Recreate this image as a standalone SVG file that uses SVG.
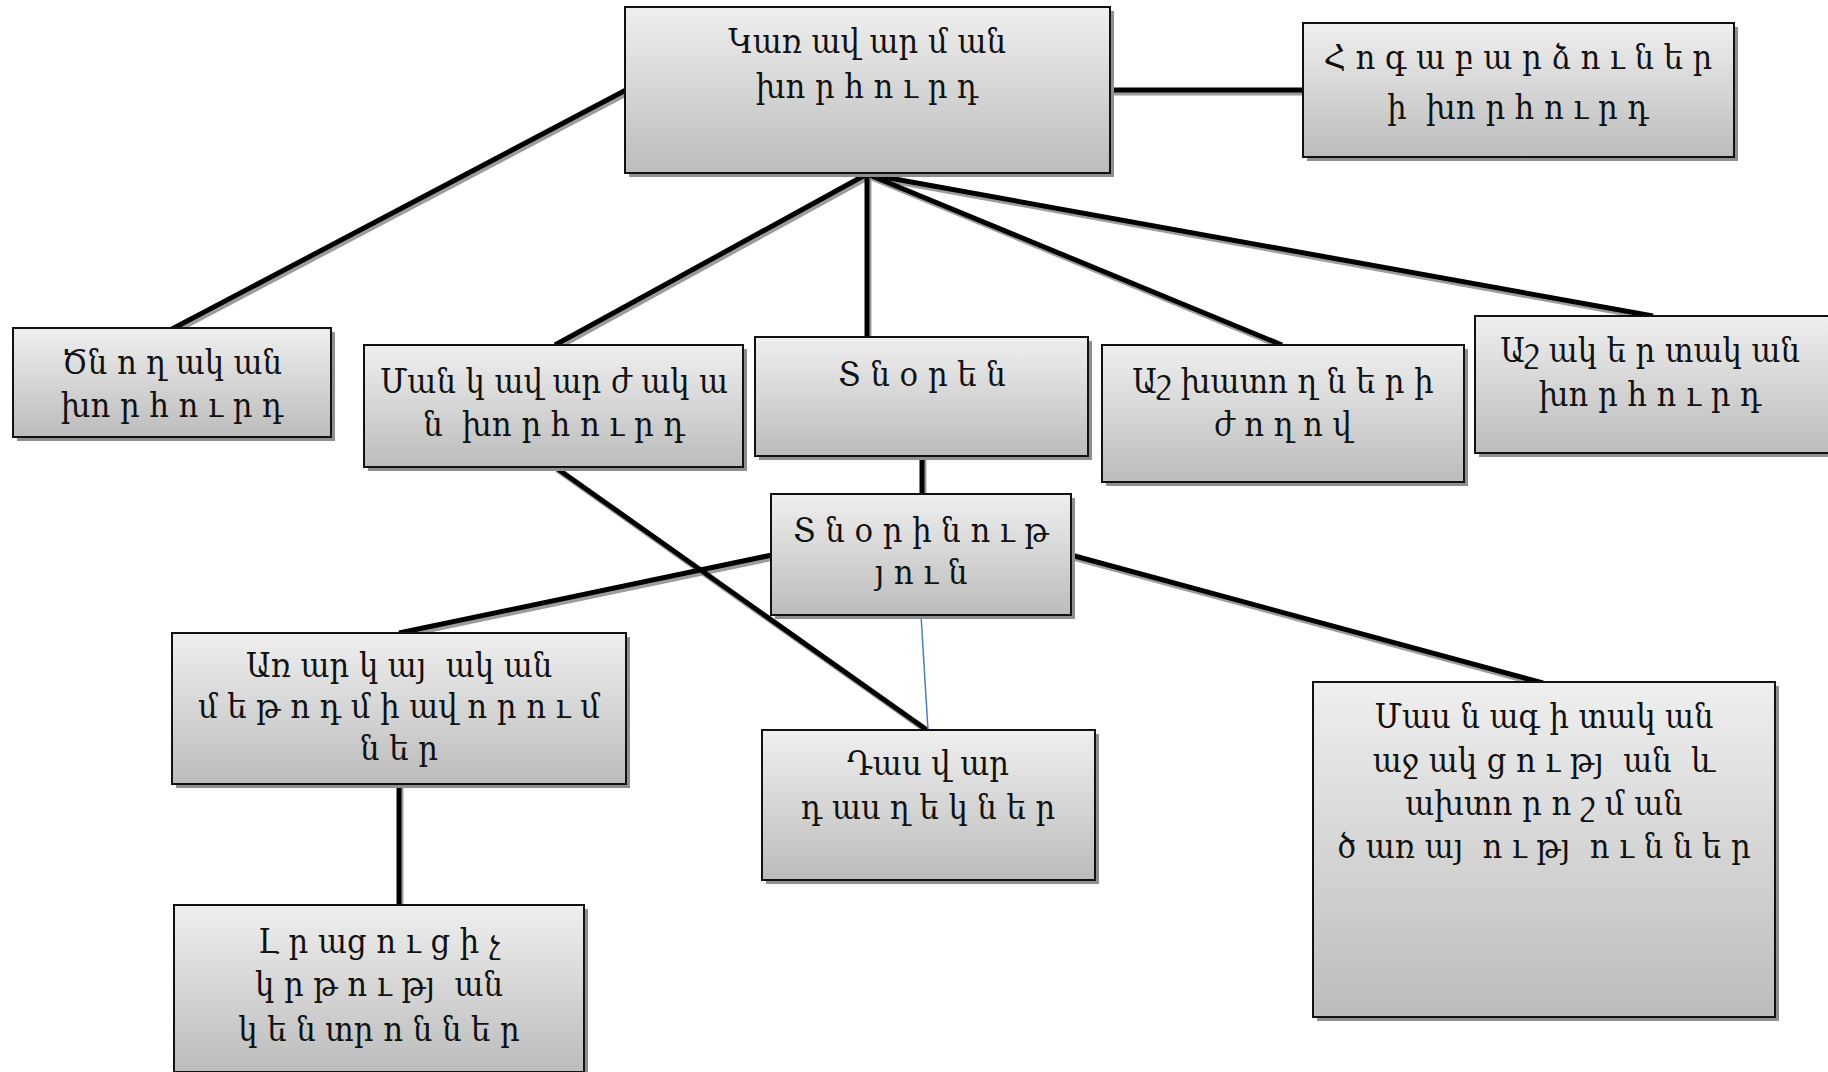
<svg xmlns="http://www.w3.org/2000/svg" width="1828" height="1072" viewBox="0 0 1828 1072">
<defs>
<linearGradient id="g" x1="0" y1="0" x2="0" y2="1">
<stop offset="0" stop-color="#efefef"/>
<stop offset="1" stop-color="#bcbcbc"/>
</linearGradient>
<style>
.box{fill:url(#g);stroke:#111;stroke-width:2}
.sh{fill:#8f8f8f}
.t{font-family:"DejaVu Serif Condensed","DejaVu Serif",serif;font-stretch:condensed;font-size:34px;fill:#111;text-anchor:middle;white-space:pre}
.ln{stroke:#000;stroke-width:5;fill:none}
.lns{stroke:#9c9c9c;stroke-width:5;fill:none}
.blue{stroke:#4a7ebb;stroke-width:1.5;fill:none}
</style>
</defs>
<rect width="1828" height="1072" fill="#fff"/>
<g id="connectors">
<g transform="translate(2,3)">
<line class="lns" x1="626" y1="90" x2="172" y2="329"/>
<line class="lns" x1="1110" y1="90" x2="1303" y2="90"/>
<line class="lns" x1="867" y1="174" x2="555" y2="345"/>
<line class="lns" x1="867" y1="174" x2="867" y2="336"/>
<line class="lns" x1="867" y1="174" x2="1282" y2="345"/>
<line class="lns" x1="867" y1="174" x2="1653" y2="316"/>
<line class="lns" x1="922" y1="456" x2="922" y2="494"/>
<line class="lns" x1="555" y1="467" x2="927" y2="730"/>
<line class="lns" x1="772" y1="555" x2="399" y2="633"/>
<line class="lns" x1="1071" y1="555" x2="1543" y2="683"/>
<line class="lns" x1="399" y1="785" x2="399" y2="905"/>
</g>
<line class="ln" x1="626" y1="90" x2="172" y2="329"/>
<line class="ln" x1="1110" y1="90" x2="1303" y2="90"/>
<line class="ln" x1="867" y1="174" x2="555" y2="345"/>
<line class="ln" x1="867" y1="174" x2="867" y2="336"/>
<line class="ln" x1="867" y1="174" x2="1282" y2="345"/>
<line class="ln" x1="867" y1="174" x2="1653" y2="316"/>
<line class="ln" x1="922" y1="456" x2="922" y2="494"/>
<line class="ln" x1="555" y1="467" x2="927" y2="730"/>
<line class="ln" x1="772" y1="555" x2="399" y2="633"/>
<line class="ln" x1="1071" y1="555" x2="1543" y2="683"/>
<line class="ln" x1="399" y1="785" x2="399" y2="905"/>
<line class="blue" x1="921" y1="615" x2="928" y2="730"/>
</g>
<g id="n-karavarman">
<rect class="sh" x="629" y="11" width="485" height="166"/>
<rect class="box" x="625" y="7" width="485" height="166"/>
<text class="t" x="867" y="53">Կառ ավ ար մ ան</text>
<text class="t" x="867" y="98">խո ր հ ո ւ ր դ</text>
</g>
<g id="n-hogabarcu">
<rect class="sh" x="1307" y="27" width="431" height="134"/>
<rect class="box" x="1303" y="23" width="431" height="134"/>
<text class="t" x="1518" y="69">Հ ո գ ա բ ա ր ձ ո ւ ն ե ր</text>
<text class="t" x="1518" y="119">ի  խո ր հ ո ւ ր դ</text>
</g>
<g id="n-cnoxakan">
<rect class="sh" x="17" y="332" width="318" height="109"/>
<rect class="box" x="13" y="328" width="318" height="109"/>
<text class="t" x="172" y="374">Ծն ո ղ ակ ան</text>
<text class="t" x="172" y="417">խո ր հ ո ւ ր դ</text>
</g>
<g id="n-mankavarzhakan">
<rect class="sh" x="368" y="349" width="379" height="122"/>
<rect class="box" x="364" y="345" width="379" height="122"/>
<text class="t" x="554" y="393">Ման կ ավ ար ժ ակ ա</text>
<text class="t" x="554" y="436">ն  խո ր հ ո ւ ր դ</text>
</g>
<g id="n-tnoren">
<rect class="sh" x="759" y="341" width="333" height="119"/>
<rect class="box" x="755" y="337" width="333" height="119"/>
<text class="t" x="922" y="386">Տ ն օ ր ե ն</text>
</g>
<g id="n-ashxatoxneri">
<rect class="sh" x="1106" y="349" width="362" height="137"/>
<rect class="box" x="1102" y="345" width="362" height="137"/>
<text class="t" x="1283" y="393">Աշ խատո ղ ն ե ր ի</text>
<text class="t" x="1283" y="436">ժ ո ղ ո վ</text>
</g>
<g id="n-ashakertakan">
<rect class="sh" x="1479" y="320" width="360" height="137"/>
<rect class="box" x="1475" y="316" width="360" height="137"/>
<text class="t" x="1650" y="362">Աշ ակ ե ր տակ ան</text>
<text class="t" x="1650" y="406">խո ր հ ո ւ ր դ</text>
</g>
<g id="n-tnorinutyun">
<rect class="sh" x="775" y="498" width="300" height="121"/>
<rect class="box" x="771" y="494" width="300" height="121"/>
<text class="t" x="921" y="542">Տ ն օ ր ի ն ո ւ թ</text>
<text class="t" x="921" y="584">յ ո ւ ն</text>
</g>
<g id="n-arakayakan">
<rect class="sh" x="176" y="637" width="454" height="151"/>
<rect class="box" x="172" y="633" width="454" height="151"/>
<text class="t" x="399" y="677">Առ ար կ այ  ակ ան</text>
<text class="t" x="399" y="718">մ ե թ ո դ մ ի ավ ո ր ո ւ մ</text>
<text class="t" x="399" y="760">ն ե ր</text>
</g>
<g id="n-dasvar">
<rect class="sh" x="766" y="734" width="333" height="150"/>
<rect class="box" x="762" y="730" width="333" height="150"/>
<text class="t" x="928" y="775">Դաս վ ար</text>
<text class="t" x="928" y="819">դ աս ղ ե կ ն ե ր</text>
</g>
<g id="n-masnagitakan">
<rect class="sh" x="1317" y="686" width="462" height="335"/>
<rect class="box" x="1313" y="682" width="462" height="335"/>
<text class="t" x="1544" y="728">Մաս ն ագ ի տակ ան</text>
<text class="t" x="1544" y="772">աջ ակ ց ո ւ թյ  ան  և</text>
<text class="t" x="1544" y="815">ախտո ր ո շ մ ան</text>
<text class="t" x="1544" y="858">ծ առ այ  ո ւ թյ  ո ւ ն ն ե ր</text>
</g>
<g id="n-lracucich">
<rect class="sh" x="178" y="909" width="410" height="167"/>
<rect class="box" x="174" y="905" width="410" height="167"/>
<text class="t" x="379" y="953">Լ ր աց ո ւ ց ի չ</text>
<text class="t" x="379" y="996">կ ր թ ո ւ թյ  ան</text>
<text class="t" x="379" y="1041">կ ե ն տր ո ն ն ե ր</text>
</g>
</svg>
